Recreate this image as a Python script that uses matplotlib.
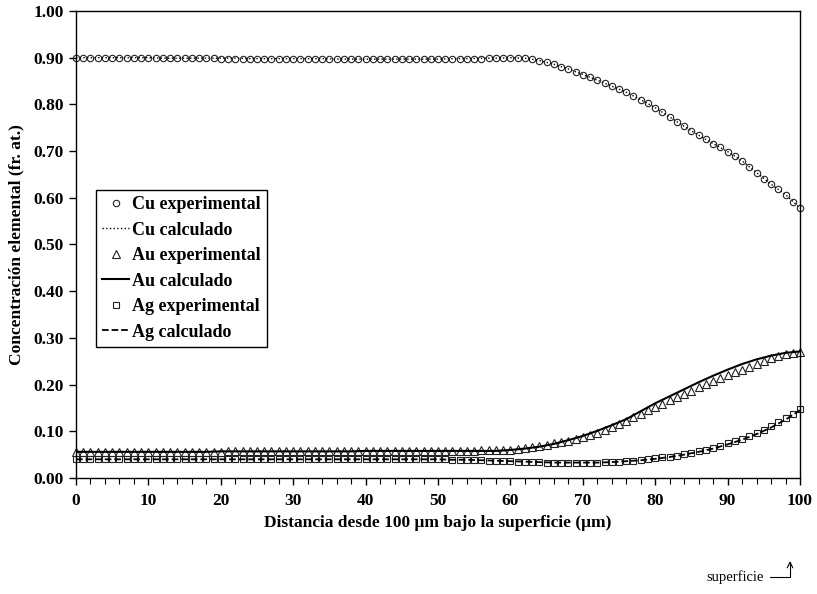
import numpy as np
import matplotlib
matplotlib.use("Agg")
import matplotlib.pyplot as plt
from matplotlib.ticker import MultipleLocator, FormatStrFormatter

# distancia (um) de los puntos experimentales, 0..100 cada 1 um
x_exp = list(range(0, 101))

cu_exp = [0.900] * 10 + \
    [0.900, 0.899, 0.899, 0.899, 0.899, 0.899, 0.899, 0.899, 0.899, 0.899] + \
    [0.898] * 10 + [0.897] * 10 + [0.897] * 10 + \
    [0.897, 0.897, 0.898, 0.898, 0.898, 0.898, 0.898, 0.899, 0.899, 0.899] + \
    [0.900, 0.900, 0.899, 0.897, 0.894, 0.890, 0.886, 0.881, 0.876, 0.870] + \
    [0.864, 0.858, 0.852, 0.845, 0.839, 0.832, 0.826, 0.819, 0.810, 0.802] + \
    [0.793, 0.783, 0.773, 0.763, 0.753, 0.744, 0.734, 0.725, 0.716, 0.708] + \
    [0.699, 0.689, 0.679, 0.667, 0.654, 0.640, 0.629, 0.618, 0.607, 0.592, 0.578]

au_exp = [0.055] * 10 + \
    [0.055, 0.055, 0.055, 0.056, 0.056, 0.056, 0.056, 0.056, 0.056, 0.056] + \
    [0.056, 0.057, 0.057, 0.057, 0.057, 0.057, 0.057, 0.057, 0.057, 0.057] + \
    [0.057] * 10 + [0.058] * 10 + \
    [0.058, 0.058, 0.058, 0.058, 0.058, 0.058, 0.059, 0.059, 0.060, 0.060] + \
    [0.061, 0.062, 0.064, 0.066, 0.068, 0.071, 0.074, 0.077, 0.080, 0.083] + \
    [0.087, 0.092, 0.097, 0.103, 0.109, 0.116, 0.123, 0.130, 0.137, 0.145] + \
    [0.152, 0.159, 0.166, 0.173, 0.180, 0.187, 0.194, 0.201, 0.208, 0.214] + \
    [0.220, 0.226, 0.232, 0.238, 0.244, 0.250, 0.256, 0.261, 0.265, 0.268, 0.270]

ag_exp = [0.040] * 50 + \
    [0.040, 0.040, 0.039, 0.039, 0.039, 0.038, 0.038, 0.037, 0.037, 0.036] + \
    [0.036, 0.035, 0.035, 0.034, 0.034, 0.033, 0.033, 0.033, 0.033, 0.033] + \
    [0.033, 0.033, 0.033, 0.034, 0.034, 0.035, 0.036, 0.037, 0.038, 0.040] + \
    [0.042, 0.044, 0.046, 0.048, 0.051, 0.054, 0.057, 0.061, 0.065, 0.069] + \
    [0.074, 0.079, 0.084, 0.090, 0.096, 0.103, 0.111, 0.119, 0.128, 0.138, 0.148]

# curvas calculadas, cada 2 um
x_calc = list(range(0, 101, 2))

cu_calc = [0.900] * 6 + [0.899] * 6 + [0.898] * 6 + [0.897] * 8 + \
    [0.898, 0.898, 0.899, 0.899] + \
    [0.900, 0.899, 0.894, 0.886, 0.876, 0.864, 0.852, 0.839, 0.826, 0.810,
     0.793, 0.773, 0.753, 0.734, 0.716, 0.699, 0.679, 0.654, 0.629, 0.607, 0.578]

au_calc = [0.056] * 10 + [0.057] * 10 + [0.058] * 10 + \
    [0.060, 0.063, 0.067, 0.073, 0.081, 0.090, 0.101, 0.113, 0.126, 0.143,
     0.160, 0.175, 0.190, 0.205, 0.219, 0.232, 0.244, 0.254, 0.262, 0.268, 0.271]

ag_calc = [0.040] * 25 + \
    [0.040, 0.039, 0.039, 0.038, 0.037, 0.036, 0.035, 0.034, 0.033, 0.033,
     0.033, 0.033, 0.034, 0.036, 0.038, 0.041, 0.045, 0.050, 0.056, 0.063,
     0.072, 0.082, 0.094, 0.108, 0.125, 0.145]

plt.rcParams['font.family'] = ['Liberation Serif', 'DejaVu Serif']
plt.rcParams['font.weight'] = 'bold'

fig = plt.figure(figsize=(8.17, 5.94), dpi=100)
ax = fig.add_axes([76 / 817, 116 / 594, 724 / 817, 467 / 594])

mk = dict(linestyle='none', markerfacecolor='none', markeredgecolor='#222222',
          markeredgewidth=0.8, clip_on=False)

ax.plot(x_exp, cu_exp, marker='o', markersize=4.6, label='Cu experimental', **mk)
ax.plot(x_calc, cu_calc, color='black', linestyle=':', linewidth=1.0, label='Cu calculado')
ax.plot(x_exp, au_exp, marker='^', markersize=5.2, label='Au experimental', **mk)
ax.plot(x_calc, au_calc, color='black', linestyle='-', linewidth=1.5, label='Au calculado')
ax.plot(x_exp, ag_exp, marker='s', markersize=4.8, label='Ag experimental', **mk)
ax.plot(x_calc, ag_calc, color='black', linestyle='--', linewidth=1.3, label='Ag calculado')

ax.set_xlim(0, 100)
ax.set_ylim(0, 1.0)
ax.xaxis.set_major_locator(MultipleLocator(10))
ax.xaxis.set_minor_locator(MultipleLocator(2))
ax.yaxis.set_major_locator(MultipleLocator(0.1))
ax.yaxis.set_major_formatter(FormatStrFormatter('%.2f'))
ax.tick_params(axis='both', which='both', direction='out', top=False, right=False,
               labelsize=12.5)
ax.tick_params(which='major', length=5, width=1)
ax.tick_params(which='minor', length=4, width=0.8)
ax.tick_params(axis='x', pad=6)
ax.tick_params(axis='y', pad=4)
for lab in ax.get_xticklabels() + ax.get_yticklabels():
    lab.set_fontweight('bold')
for s in ax.spines.values():
    s.set_linewidth(1.0)

ax.set_xlabel('Distancia desde 100 \u03bcm bajo la superficie (\u03bcm)',
              fontsize=12.5, fontweight='bold', labelpad=4)
ax.set_ylabel('Concentración elemental (fr. at.)', fontsize=12.5, fontweight='bold',
              labelpad=6)

leg = ax.legend(loc='upper left', bbox_to_anchor=(96 / 817, 1 - 190 / 594),
                bbox_transform=fig.transFigure, frameon=True, fancybox=False,
                edgecolor='black', framealpha=1, handlelength=1.5,
                handletextpad=0.15, borderpad=0.35, labelspacing=0.47,
                borderaxespad=0, prop={'size': 13, 'weight': 'bold'})
leg.get_frame().set_linewidth(1.0)

# flecha "superficie"
fig.text(735 / 817, 1 - 577 / 594, 'superficie', fontsize=10.5, fontweight='normal',
         ha='center', va='center')
ax.annotate('', xy=(790 / 817, 1 - 561 / 594), xytext=(770 / 817, 1 - 577 / 594),
            xycoords='figure fraction', textcoords='figure fraction',
            arrowprops=dict(arrowstyle='->', connectionstyle='angle,angleA=0,angleB=90,rad=0',
                            color='black', lw=0.8, shrinkA=0, shrinkB=0))

fig.savefig('out.png', dpi=100)
